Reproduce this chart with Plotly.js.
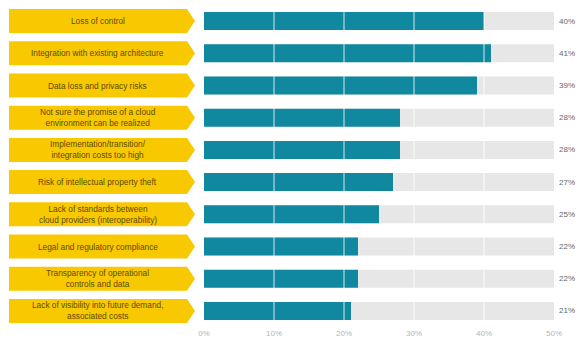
<!DOCTYPE html>
<html>
<head>
<meta charset="utf-8">
<script src="https://cdn.plot.ly/plotly-3.0.1.min.js"></script>
<style>html,body{margin:0;padding:0;background:#fff;}#chart{width:579px;height:340px;}</style>
</head>
<body>
<div id="chart"></div>
<script>
const categories = [
  "Loss of control",
  "Integration with existing architecture",
  "Data loss and privacy risks",
  "Not sure the promise of a cloud<br>environment can be realized",
  "Implementation/transition/<br>integration costs too high",
  "Risk of intellectual property theft",
  "Lack of standards between<br>cloud providers (interoperability)",
  "Legal and regulatory compliance",
  "Transparency of operational<br>controls and data",
  "Lack of visibility into future demand,<br>associated costs"
];
const values = [40, 41, 39, 28, 28, 27, 25, 22, 22, 21];
const scaleMax = 50;
const tickValues = [0, 10, 20, 30, 40, 50];
const tickLabels = ["0%", "10%", "20%", "30%", "40%", "50%"];

const W = 579, H = 340;
const margin = {l: 204, r: 25, t: 5, b: 13};
const plotW = W - margin.l - margin.r;
const plotH = H - margin.t - margin.b;
const n = categories.length;

const bgTrace = {
  type: 'bar', orientation: 'h',
  y: categories, x: categories.map(() => scaleMax),
  marker: {color: '#e7e7e7'}, width: 0.56,
  hoverinfo: 'skip'
};
const valTrace = {
  type: 'bar', orientation: 'h',
  y: categories, x: values,
  marker: {color: '#10889f'}, width: 0.56
};

const shapes = [];
const annotations = [];
const pxToPaperX = px => (px - margin.l) / plotW;
const left = pxToPaperX(9), bodyRight = pxToPaperX(187), tip = pxToPaperX(195);
const halfH = 12 / plotH;
categories.forEach((c, i) => {
  const yc = 1 - (i + 0.5) / n;
  shapes.push({
    type: 'path', xref: 'paper', yref: 'paper',
    path: `M ${left},${yc + halfH} L ${bodyRight},${yc + halfH} L ${tip},${yc} L ${bodyRight},${yc - halfH} L ${left},${yc - halfH} Z`,
    fillcolor: '#f8c800', line: {width: 0}, layer: 'below'
  });
  annotations.push({
    xref: 'paper', yref: 'y', x: (left + bodyRight) / 2, y: c,
    text: c, showarrow: false, xanchor: 'center', yanchor: 'middle',
    font: {family: 'Liberation Sans, Arial, sans-serif', size: 8.3, color: '#5e4c00'},
    align: 'center'
  });
  annotations.push({
    xref: 'x', yref: 'y', x: scaleMax, y: c, xshift: 3,
    text: values[i] + '%', showarrow: false, xanchor: 'left', yanchor: 'middle',
    font: {family: 'Liberation Sans, Arial, sans-serif', size: 8, color: '#666'}
  });
});
tickValues.slice(1, -1).forEach(v => {
  shapes.push({
    type: 'line', xref: 'x', yref: 'paper', x0: v, x1: v, y0: 0, y1: 1,
    line: {color: 'rgba(255,255,255,0.55)', width: 1.5}, layer: 'above'
  });
});

const layout = {
  width: W, height: H, margin: margin,
  paper_bgcolor: '#fff', plot_bgcolor: '#fff',
  barmode: 'overlay', showlegend: false,
  xaxis: {
    range: [0, scaleMax], tickvals: tickValues, ticktext: tickLabels,
    showgrid: false, zeroline: false, showline: false, ticks: '',
    tickfont: {family: 'Liberation Sans, Arial, sans-serif', size: 8, color: '#b5b5b5'},
    fixedrange: true
  },
  yaxis: {
    type: 'category', autorange: 'reversed',
    showticklabels: false, showgrid: false, zeroline: false, ticks: '',
    fixedrange: true
  },
  shapes: shapes, annotations: annotations
};

Plotly.newPlot('chart', [bgTrace, valTrace], layout, {displayModeBar: false, staticPlot: true});
</script>
</body>
</html>
